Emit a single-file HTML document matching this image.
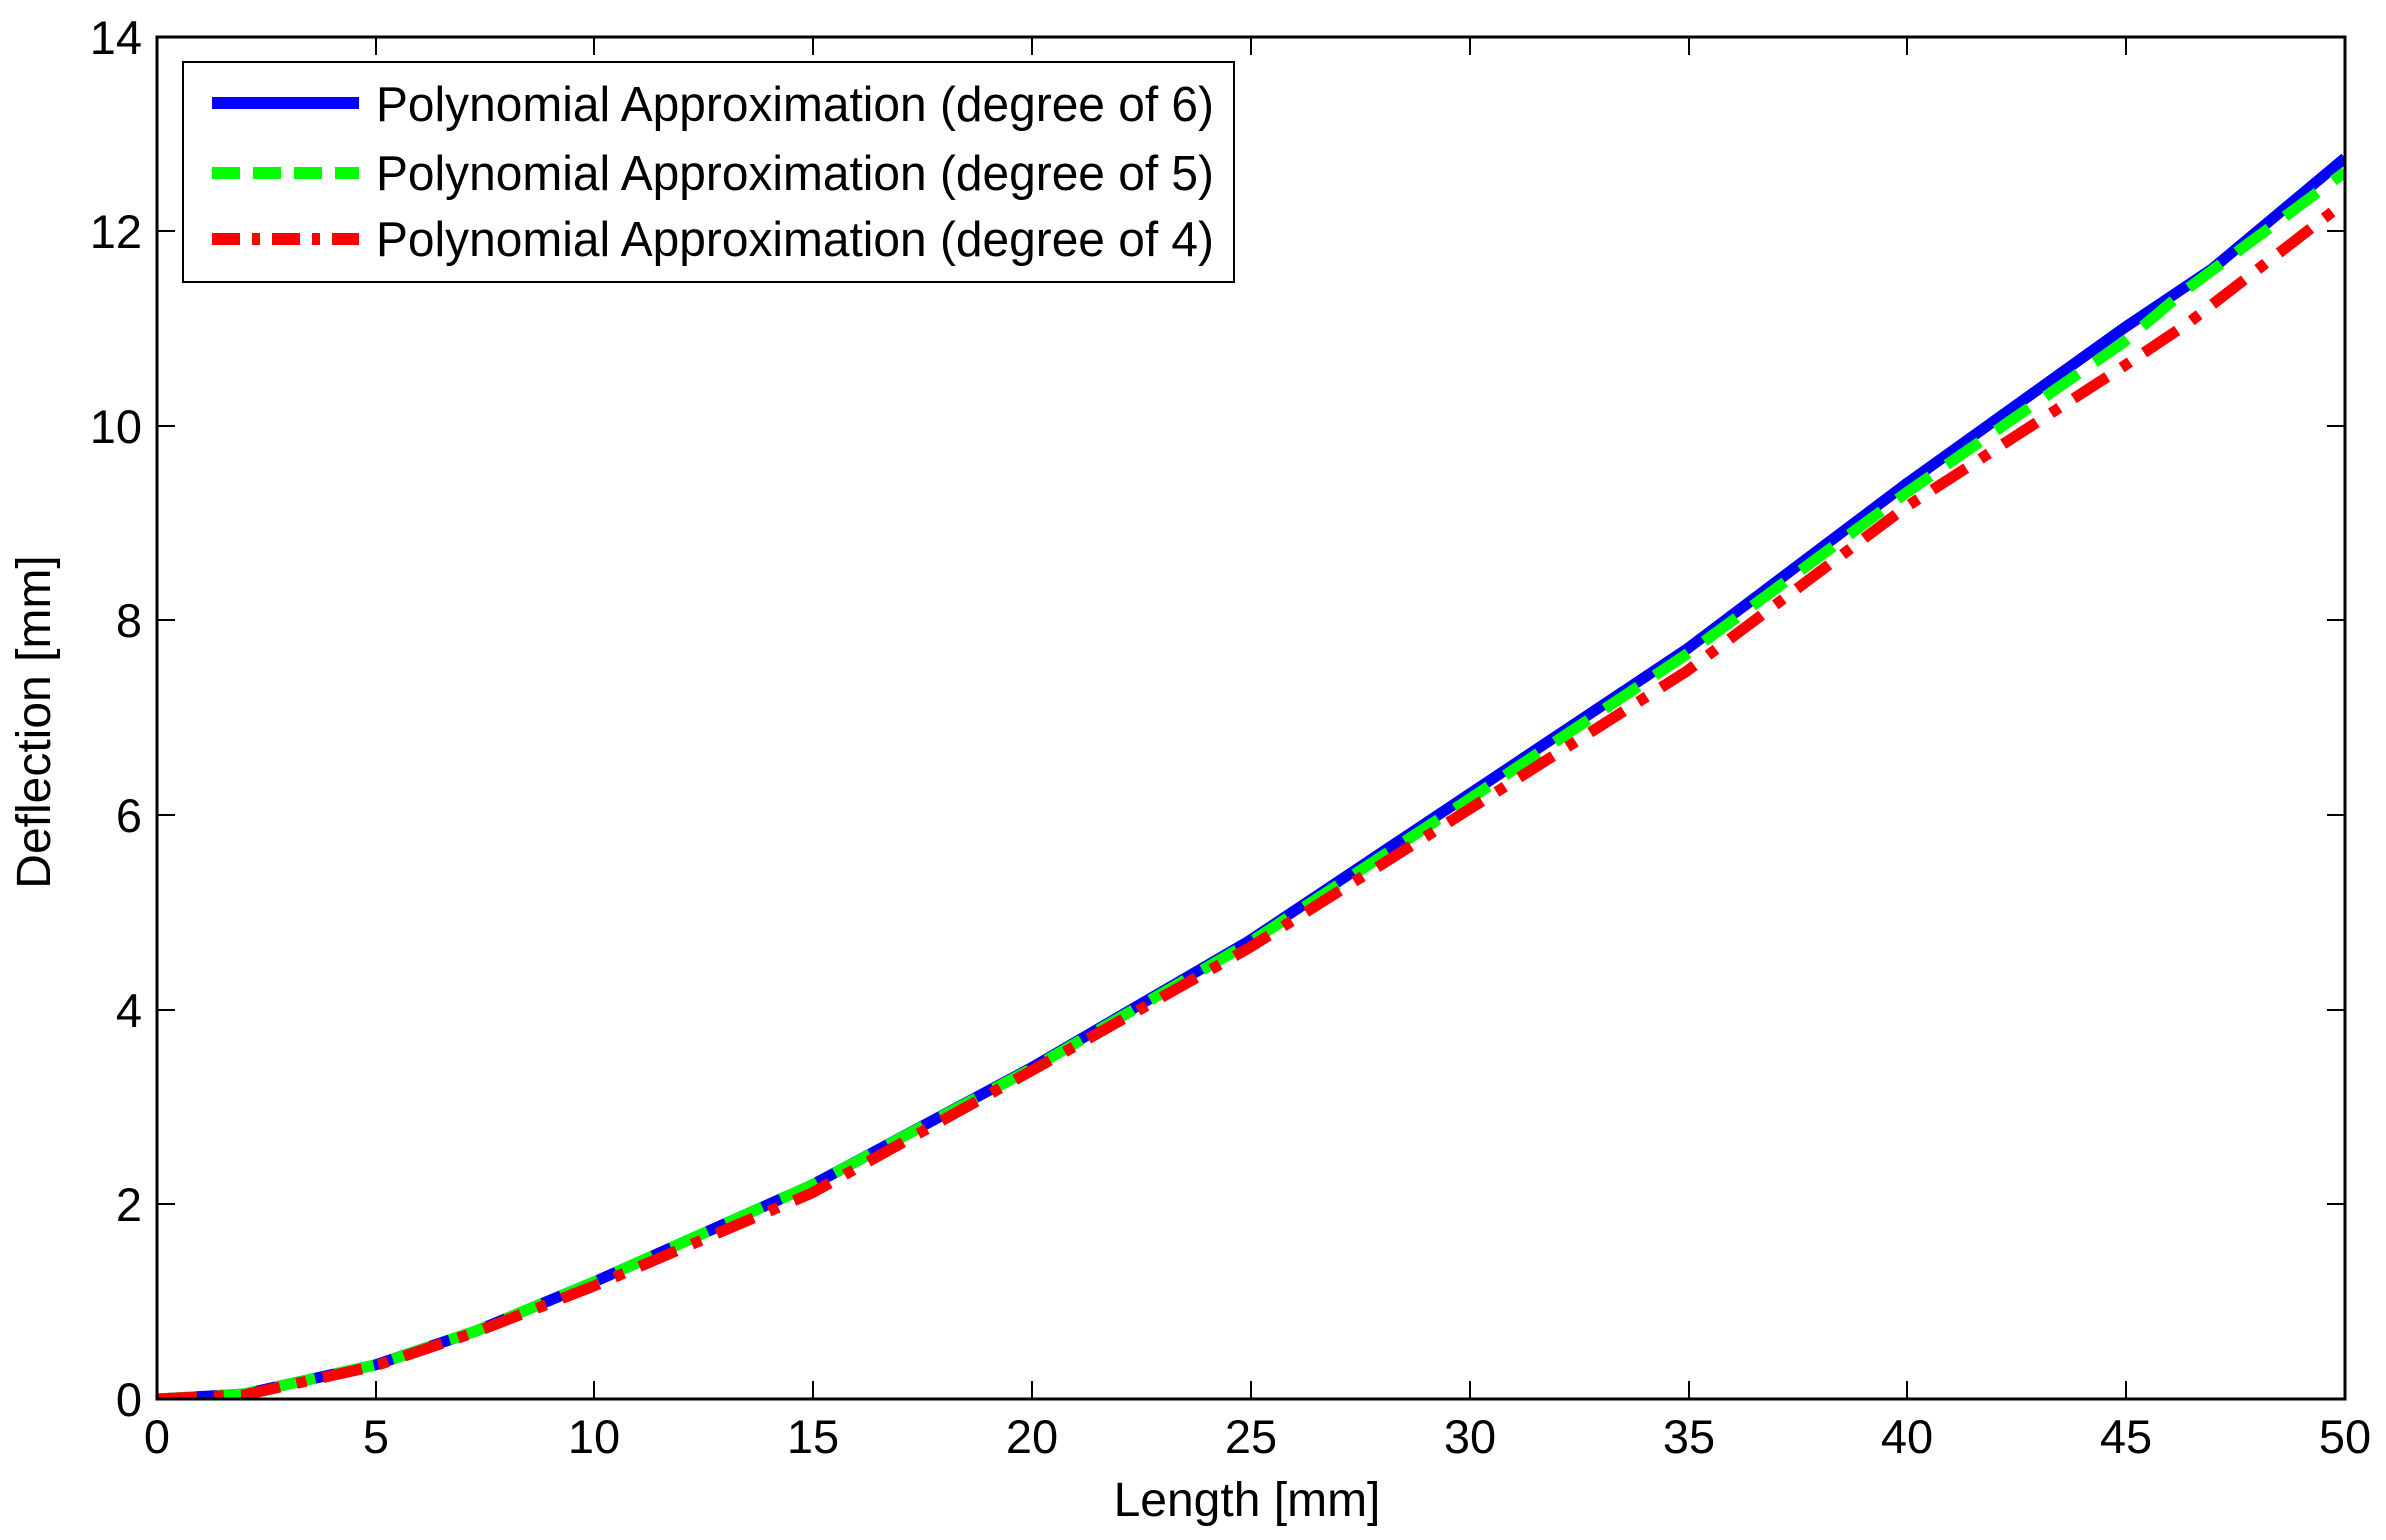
<!DOCTYPE html>
<html><head><meta charset="utf-8"><style>
html,body{margin:0;padding:0;background:#fff;}
svg{display:block;font-family:"Liberation Sans",Arial,sans-serif;}
</style></head><body>
<svg width="2386" height="1540" viewBox="0 0 2386 1540" xmlns="http://www.w3.org/2000/svg">
<rect width="2386" height="1540" fill="#fff"/>
<defs><clipPath id="c"><rect x="157" y="37" width="2188" height="1362"/></clipPath></defs>
<g clip-path="url(#c)" fill="none" stroke-width="11" stroke-linejoin="round">
<polyline stroke="#0000ff" points="157,1399 244,1394 375,1365 476,1331 594,1282 812,1185 1031,1068 1249,941 1468,795 1687,649 1906,484 2124,328 2212,269 2345,158"/>
<polyline stroke="#00ff00" stroke-dasharray="40 20" points="157,1399 244,1394 375,1365 476,1331 594,1282 812,1185 1031,1069 1249,943 1468,800 1687,654 1906,493 2124,342 2187,289 2345,172"/>
<polyline stroke="#ff0000" stroke-dasharray="40 17 10 17" points="157,1399 244,1395 375,1366 476,1332 594,1286 812,1193 1031,1071 1249,948 1468,810 1687,671 1906,507 2124,366 2187,324 2345,202"/>
</g>
<g stroke="#000" stroke-width="2" fill="none">
<rect x="157" y="37" width="2188" height="1362" stroke-width="3"/>
<path d="M157,1399v-18M376,1399v-18M594,1399v-18M813,1399v-18M1032,1399v-18M1251,1399v-18M1470,1399v-18M1689,1399v-18M1907,1399v-18M2126,1399v-18M2345,1399v-18
M157,37v18M376,37v18M594,37v18M813,37v18M1032,37v18M1251,37v18M1470,37v18M1689,37v18M1907,37v18M2126,37v18M2345,37v18
M157,1399h18M157,1204h18M157,1010h18M157,815h18M157,620h18M157,426h18M157,231h18M157,37h18
M2345,1399h-18M2345,1204h-18M2345,1010h-18M2345,815h-18M2345,620h-18M2345,426h-18M2345,231h-18M2345,37h-18"/>
</g>
<g font-size="47" fill="#000" text-anchor="middle">
<text x="157" y="1453">0</text><text x="376" y="1453">5</text><text x="594" y="1453">10</text><text x="813" y="1453">15</text><text x="1032" y="1453">20</text><text x="1251" y="1453">25</text><text x="1470" y="1453">30</text><text x="1689" y="1453">35</text><text x="1907" y="1453">40</text><text x="2126" y="1453">45</text><text x="2345" y="1453">50</text>
</g>
<g font-size="47" fill="#000" text-anchor="end">
<text x="142" y="1416">0</text><text x="142" y="1221">2</text><text x="142" y="1027">4</text><text x="142" y="832">6</text><text x="142" y="637">8</text><text x="142" y="443">10</text><text x="142" y="248">12</text><text x="142" y="54">14</text>
</g>
<text x="1247" y="1516" font-size="48" text-anchor="middle">Length [mm]</text>
<text transform="translate(50,722) rotate(-90)" font-size="48" text-anchor="middle">Deflection [mm]</text>
<rect x="183" y="62" width="1051" height="220" fill="#fff" stroke="#000" stroke-width="2"/>
<g stroke-width="12">
<line x1="212" y1="103" x2="359" y2="103" stroke="#0000ff"/>
<line x1="212" y1="173" x2="359" y2="173" stroke="#00ff00" stroke-dasharray="28 13"/>
<line x1="212" y1="239" x2="359" y2="239" stroke="#ff0000" stroke-dasharray="28 12 8 12"/>
</g>
<g font-size="49" fill="#000">
<text x="376" y="121" textLength="838" lengthAdjust="spacingAndGlyphs">Polynomial Approximation (degree of 6)</text>
<text x="376" y="190" textLength="838" lengthAdjust="spacingAndGlyphs">Polynomial Approximation (degree of 5)</text>
<text x="376" y="256" textLength="838" lengthAdjust="spacingAndGlyphs">Polynomial Approximation (degree of 4)</text>
</g>
</svg>
</body></html>
